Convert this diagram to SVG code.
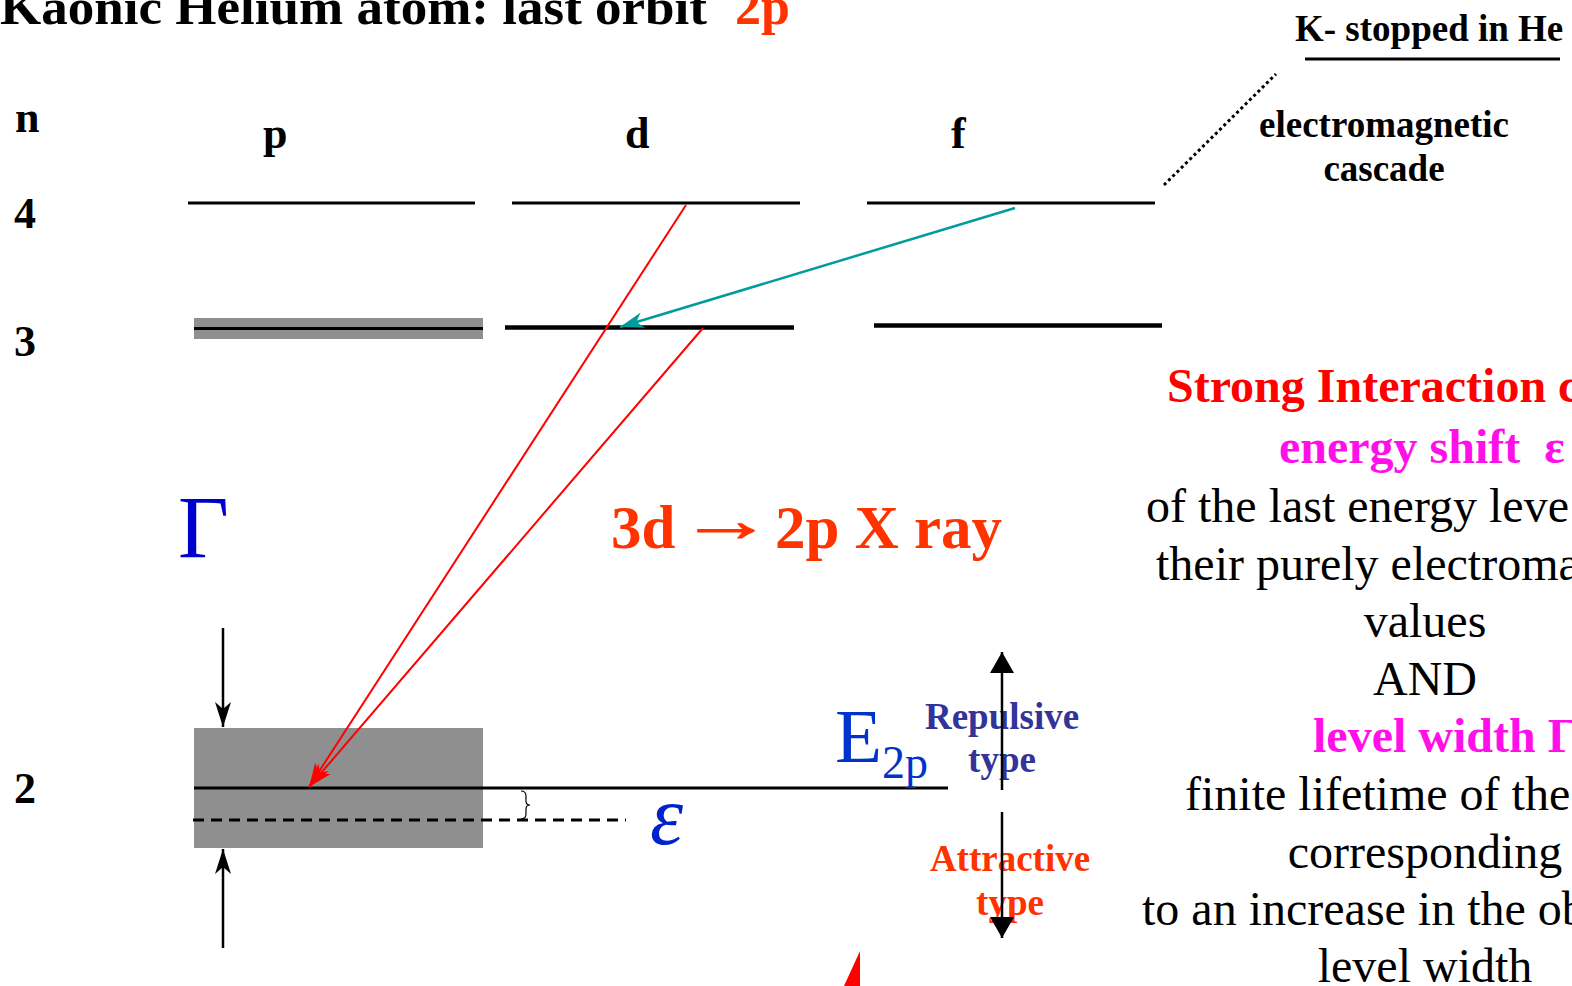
<svg xmlns="http://www.w3.org/2000/svg" width="1572" height="986" viewBox="0 0 1572 986">
<style>
text{font-family:"Liberation Serif","Times New Roman",serif}
.b{font-weight:bold}
.lbl{font-size:44px;font-weight:bold;fill:#000}
.lvl{stroke:#000;stroke-width:3;fill:none}
.lvl3{stroke:#000;stroke-width:4.5;fill:none}
.body{font-size:48px;fill:#000}
.mag{font-size:48px;font-weight:bold;fill:#ff10e8}
.gray{fill:#8f8f8f}
.xr{font-size:61px;font-weight:bold;fill:#ff3300}
</style>
<defs>
<marker id="arrRed" markerUnits="userSpaceOnUse" markerWidth="30" markerHeight="30" viewBox="-26 -12 30 24" refX="0" refY="0" orient="auto">
<path d="M0,0 L-24,-8 L-17,0 L-24,8 Z" fill="#ff0000"/>
</marker>
<marker id="arrTeal" markerUnits="userSpaceOnUse" markerWidth="30" markerHeight="30" viewBox="-26 -12 30 24" refX="0" refY="0" orient="auto">
<path d="M0,0 L-24,-8 L-17,0 L-24,8 Z" fill="#009b9b"/>
</marker>
<marker id="arrBlk" markerUnits="userSpaceOnUse" markerWidth="30" markerHeight="30" viewBox="-28 -12 30 24" refX="0" refY="0" orient="auto">
<path d="M0,0 L-25,-8 L-18,0 L-25,8 Z" fill="#000"/>
</marker>
<marker id="triBlk" markerUnits="userSpaceOnUse" markerWidth="30" markerHeight="30" viewBox="-16 -10 18 20" refX="0" refY="0" orient="auto">
<path d="M0,0 L-14,-8 L-14,8 Z" fill="#000"/>
</marker>
</defs>

<g id="title">
<text class="b" x="0" y="24" font-size="50" textLength="707" lengthAdjust="spacingAndGlyphs">Kaonic Helium atom: last orbit</text>
<text class="b" x="735" y="24" font-size="52" fill="#ff3300">2p</text>
</g>

<g id="k-stopped">
<text class="b" x="1295" y="41" font-size="37">K- stopped in He</text>
<line x1="1305" y1="59" x2="1560" y2="59" stroke="#000" stroke-width="3"/>
</g>

<g id="em-cascade">
<text class="b" x="1384" y="137" font-size="37" text-anchor="middle">electromagnetic</text>
<text class="b" x="1384" y="181" font-size="37" text-anchor="middle">cascade</text>
</g>

<g id="axis-labels">
<text class="lbl" x="15" y="132">n</text>
<text class="lbl" x="14" y="228">4</text>
<text class="lbl" x="14" y="356">3</text>
<text class="lbl" x="14" y="803">2</text>
<text class="lbl" x="263" y="148">p</text>
<text class="lbl" x="625" y="148">d</text>
<text class="lbl" x="951" y="148">f</text>
</g>

<g id="level-4p"><line class="lvl" x1="188" y1="203" x2="475" y2="203"/></g>
<g id="level-4d"><line class="lvl" x1="512" y1="203" x2="800" y2="203"/></g>
<g id="level-4f"><line class="lvl" x1="867" y1="203" x2="1155" y2="203"/></g>

<g id="level-3p">
<rect class="gray" x="194" y="318" width="289" height="21"/>
<line x1="194" y1="328.5" x2="483" y2="328.5" stroke="#000" stroke-width="3"/>
</g>
<g id="level-3d"><line class="lvl3" x1="505" y1="327.5" x2="794" y2="327.5"/></g>
<g id="level-3f"><line class="lvl3" x1="874" y1="325.5" x2="1162" y2="325.5"/></g>

<g id="level-2p">
<rect class="gray" x="194" y="728" width="289" height="120"/>
<line x1="194" y1="788" x2="948" y2="788" stroke="#000" stroke-width="3"/>
<line x1="193" y1="820" x2="626" y2="820" stroke="#000" stroke-width="3" stroke-dasharray="11 7"/>
<path d="M521,791 q5,0 5,5 v5 q0,4 4,4 q-4,0 -4,4 v5 q0,5 -5,5" fill="none" stroke="#000" stroke-width="1.2"/>
</g>

<g id="gamma-label">
<text x="178" y="557" font-size="88" fill="#0000cc">Γ</text>
</g>

<g id="xray-label">
<text class="xr" x="611" y="548">3d</text>
<text class="xr" transform="translate(679,541) scale(1.55,1)" stroke="#ff3300" stroke-width="1">→</text>
<text class="xr" x="775" y="548" font-size="63">2p X ray</text>
</g>

<g id="e2p-label">
<text x="835" y="762" font-size="77" fill="#0033cc">E<tspan font-size="46" dy="16">2p</tspan></text>
</g>

<g id="epsilon-label">
<text x="650" y="844" font-size="84" font-style="italic" fill="#0022cc">ε</text>
</g>

<g id="repulsive">
<text class="b" x="1002" y="729" font-size="37" fill="#333399" text-anchor="middle">Repulsive</text>
<text class="b" x="1002" y="772" font-size="37" fill="#333399" text-anchor="middle">type</text>
</g>
<g id="attractive">
<text class="b" x="1010" y="871" font-size="37" fill="#ff3300" text-anchor="middle">Attractive</text>
<text class="b" x="1010" y="915" font-size="37" fill="#ff3300" text-anchor="middle">type</text>
</g>

<g id="right-text">
<text class="b" x="1167" y="402" font-size="48" fill="#ff0000">Strong Interaction c</text>
<text class="mag" x="1279" y="463" xml:space="preserve">energy shift  ε</text>
<text class="body" x="1146" y="522">of the last energy leve</text>
<text class="body" x="1156" y="580">their purely electroma</text>
<text class="body" x="1425" y="637" text-anchor="middle">values</text>
<text class="body" x="1425" y="695" text-anchor="middle">AND</text>
<text class="mag" x="1313" y="752">level width Γ</text>
<text class="body" x="1185" y="810">finite lifetime of the</text>
<text class="body" x="1425" y="868" text-anchor="middle">corresponding</text>
<text class="body" x="1142" y="925">to an increase in the ob</text>
<text class="body" x="1425" y="982" text-anchor="middle">level width</text>
</g>

<g id="connectors">
<line x1="686" y1="205" x2="309" y2="787" stroke="#ff0000" stroke-width="2" marker-end="url(#arrRed)"/>
<line x1="703" y1="328" x2="309" y2="787" stroke="#ff0000" stroke-width="2" marker-end="url(#arrRed)"/>
<line x1="1015" y1="208" x2="620" y2="327" stroke="#009b9b" stroke-width="2.5" marker-end="url(#arrTeal)"/>
<line x1="223" y1="628" x2="223" y2="727" stroke="#000" stroke-width="2.5" marker-end="url(#arrBlk)"/>
<line x1="223" y1="948" x2="223" y2="849" stroke="#000" stroke-width="2.5" marker-end="url(#arrBlk)"/>
<line x1="1002" y1="790" x2="1002" y2="652" stroke="#000" stroke-width="2.5" marker-end="url(#triBlk)"/>
<line x1="1002" y1="812" x2="1002" y2="938" stroke="#000" stroke-width="2.5" marker-end="url(#triBlk)"/>
<line x1="1164" y1="185" x2="1276" y2="74" stroke="#000" stroke-width="3" stroke-dasharray="3 3"/>
<polygon points="844,986 860,951 860,986" fill="#ff0000"/>
</g>
</svg>
